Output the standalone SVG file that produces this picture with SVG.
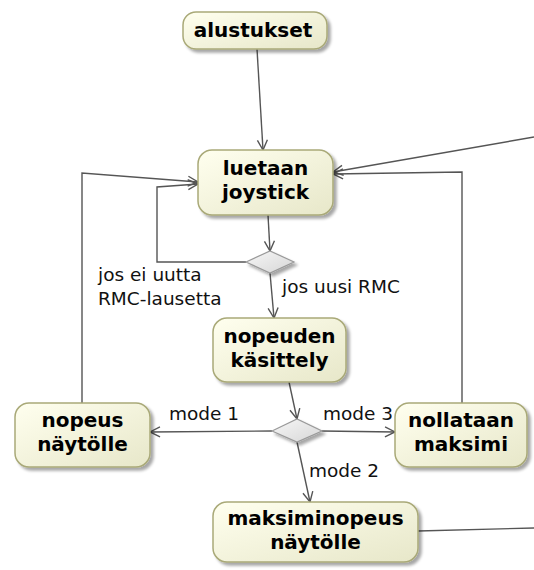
<svg xmlns="http://www.w3.org/2000/svg" width="534" height="570" viewBox="0 0 534 570">
<defs>
<linearGradient id="nodeFill" x1="0" y1="0" x2="1" y2="1">
<stop offset="0" stop-color="#ffffef"/>
<stop offset="1" stop-color="#e7e7c9"/>
</linearGradient>
<linearGradient id="decFill" x1="0" y1="0" x2="1" y2="1">
<stop offset="0" stop-color="#f7f7f7"/>
<stop offset="1" stop-color="#d6d6d6"/>
</linearGradient>
<filter id="shadow" x="-10%" y="-10%" width="130%" height="140%">
<feGaussianBlur in="SourceAlpha" stdDeviation="1.5"/>
<feOffset dx="3" dy="3" result="b"/>
<feComponentTransfer><feFuncA type="linear" slope="0.35"/></feComponentTransfer>
<feMerge><feMergeNode/><feMergeNode in="SourceGraphic"/></feMerge>
</filter>
<marker id="arr" markerWidth="12" markerHeight="12" refX="11" refY="6" orient="auto" markerUnits="userSpaceOnUse">
<path d="M1,1 L11,6 L1,11" fill="none" stroke="#555" stroke-width="1.4"/>
</marker>
</defs>
<style>
.node rect{fill:url(#nodeFill);stroke:#a9a978;stroke-width:1.5;filter:url(#shadow)}
.dec polygon{fill:url(#decFill);stroke:#9a9a9a;stroke-width:1.2;filter:url(#shadow)}
.node text{font-family:"DejaVu Sans",Verdana,sans-serif;font-weight:bold;font-size:20px;fill:#000;text-anchor:middle}
.lbl{font-family:"DejaVu Sans",Verdana,sans-serif;font-size:18.5px;fill:#111}
.edges path{fill:none;stroke:#555;stroke-width:1.4}
.edges .a{marker-end:url(#arr)}
</style>
<rect width="534" height="570" fill="#fff"/>
<g class="edges" id="connectors">
<path class="a" d="M257,49 L263,150"/>
<path class="a" d="M268,215 L270,251"/>
<path class="a" d="M246,262 L157,262 L157,187 L198,184"/>
<path class="a" d="M270,273 L274,318"/>
<path class="a" d="M289,382 L297,419"/>
<path class="a" d="M272,431 L150,432"/>
<path class="a" d="M322,431 L395,432"/>
<path class="a" d="M297,442 L310,502"/>
<path class="a" d="M82,403 L82,173 L198,182"/>
<path class="a" d="M462,403 L462,172 L333,174"/>
<path class="a" d="M534,137 L333,172"/>
<path d="M418,531 L534,528"/>
</g>
<g id="labels">
<text class="lbl" x="98" y="281">jos ei uutta</text>
<text class="lbl" x="98" y="305">RMC-lausetta</text>
<text class="lbl" x="282" y="293">jos uusi RMC</text>
<text class="lbl" x="169" y="420">mode 1</text>
<text class="lbl" x="323" y="420">mode 3</text>
<text class="lbl" x="309" y="477">mode 2</text>
</g>
<g class="node" id="alustukset">
<rect x="183" y="12" width="144" height="37" rx="13"/>
<text x="253" y="37">alustukset</text>
</g>
<g class="node" id="luetaan">
<rect x="198" y="150" width="135" height="65" rx="14"/>
<text x="265.5" y="175">luetaan</text>
<text x="265.5" y="199">joystick</text>
</g>
<g class="dec" id="decision1">
<polygon points="246,262 270,251 294,262 270,273"/>
</g>
<g class="node" id="nopeuden">
<rect x="213" y="318" width="133" height="64" rx="14"/>
<text x="279.5" y="343">nopeuden</text>
<text x="279.5" y="367">käsittely</text>
</g>
<g class="dec" id="decision2">
<polygon points="272,431 297,419 322,431 297,442"/>
</g>
<g class="node" id="nopeus">
<rect x="15" y="403" width="135" height="64" rx="14"/>
<text x="82.5" y="427">nopeus</text>
<text x="82.5" y="451">näytölle</text>
</g>
<g class="node" id="nollataan">
<rect x="395" y="403" width="132" height="64" rx="14"/>
<text x="461" y="427">nollataan</text>
<text x="461" y="451">maksimi</text>
</g>
<g class="node" id="maksiminopeus">
<rect x="213" y="502" width="205" height="60" rx="14"/>
<text x="315.5" y="525">maksiminopeus</text>
<text x="315.5" y="549">näytölle</text>
</g>
</svg>
